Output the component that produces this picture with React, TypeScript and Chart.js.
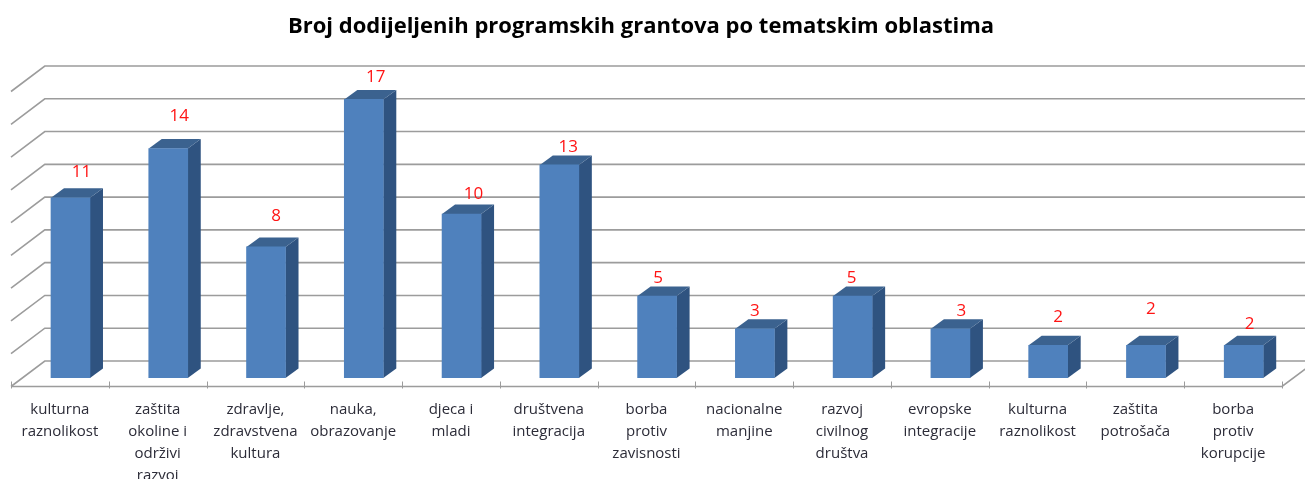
import React, { useEffect, useRef } from "react";
import { Chart, registerables } from "chart.js";

Chart.register(...registerables);

const TITLE = "Broj dodijeljenih programskih grantova po tematskim oblastima";
const categories: string[][] = [
  ["kulturna", "raznolikost"],
  ["zaštita", "okoline i", "održivi", "razvoj"],
  ["zdravlje,", "zdravstvena", "kultura"],
  ["nauka,", "obrazovanje"],
  ["djeca i", "mladi"],
  ["društvena", "integracija"],
  ["borba", "protiv", "zavisnosti"],
  ["nacionalne", "manjine"],
  ["razvoj", "civilnog", "društva"],
  ["evropske", "integracije"],
  ["kulturna", "raznolikost"],
  ["zaštita", "potrošača"],
  ["borba", "protiv", "korupcije"],
];
const grants = [11, 14, 8, 17, 10, 13, 5, 3, 5, 3, 2, 2, 2];
// hand-placed data labels in the source: shift from the bar's top centre
const labelShiftX = [11, 11, 10, 12, 12, 9, 1, 0, -1, 11, 10, 5, 6];
const labelLift = [26, 32, 31, 22, 20, 18, 18, 18, 18, 18, 28, 36, 21];

const FLOOR_FRONT = { dx: -10.6, dy: 8.5 };
const FLOOR_BACK = { dx: 23.2, dy: -17 };
const BAR_DEPTH = { dx: 13, dy: -9.5 };
const GRID = "#9c9c9c";

const box3d = {
  id: "box3d",
  afterLayout(chart: any) {
    const t = chart.titleBlock;
    if (t) { t.left = 0; t.right = 1282; }
  },
  beforeDatasetsDraw(chart: any) {
    const { ctx, scales, chartArea } = chart;
    const { x, y } = scales;
    ctx.save();
    ctx.strokeStyle = GRID;
    ctx.lineWidth = 1.6;
    const left = chartArea.left, right = chartArea.right;
    y.ticks.forEach((tk: any) => {
      const py = y.getPixelForValue(tk.value);
      ctx.beginPath();
      ctx.moveTo(left + FLOOR_FRONT.dx, py + FLOOR_FRONT.dy);
      ctx.lineTo(left + FLOOR_BACK.dx, py + FLOOR_BACK.dy);
      ctx.lineTo(right + FLOOR_BACK.dx, py + FLOOR_BACK.dy);
      ctx.stroke();
    });
    const y0 = y.getPixelForValue(0);
    ctx.beginPath();
    ctx.moveTo(left + FLOOR_FRONT.dx, y0 + FLOOR_FRONT.dy);
    ctx.lineTo(right + FLOOR_FRONT.dx, y0 + FLOOR_FRONT.dy);
    ctx.lineTo(right + FLOOR_BACK.dx, y0 + FLOOR_BACK.dy);
    ctx.stroke();
    ctx.lineWidth = 1;
    const step = (right - left) / categories.length;
    for (let i = 0; i <= categories.length; i++) {
      const px = Math.round(left + i * step + FLOOR_FRONT.dx) + 0.5;
      ctx.beginPath();
      ctx.moveTo(px, y0 + FLOOR_FRONT.dy - 5);
      ctx.lineTo(px, y0 + FLOOR_FRONT.dy + 2);
      ctx.stroke();
    }
    const d = BAR_DEPTH;
    chart.getDatasetMeta(0).data.forEach((b: any) => {
      const l = b.x - b.width / 2, r = b.x + b.width / 2;
      ctx.fillStyle = "#2f5380";
      ctx.beginPath();
      ctx.moveTo(r, b.y);
      ctx.lineTo(r + d.dx, b.y + d.dy);
      ctx.lineTo(r + d.dx, b.base + d.dy);
      ctx.lineTo(r, b.base);
      ctx.closePath();
      ctx.fill();
      ctx.fillStyle = "#3b628f";
      ctx.beginPath();
      ctx.moveTo(l, b.y);
      ctx.lineTo(l + d.dx, b.y + d.dy);
      ctx.lineTo(r + d.dx, b.y + d.dy);
      ctx.lineTo(r, b.y);
      ctx.closePath();
      ctx.fill();
    });
    ctx.restore();
  },
  afterDatasetsDraw(chart: any) {
    const { ctx } = chart;
    ctx.save();
    ctx.fillStyle = "#ff1414";
    ctx.font = '17px "Open Sans"';
    ctx.textAlign = "center";
    ctx.textBaseline = "middle";
    chart.getDatasetMeta(0).data.forEach((b: any, i: number) => {
      ctx.fillText(String(grants[i]), b.x + labelShiftX[i], b.y - labelLift[i]);
    });
    ctx.restore();
  },
};

export default function App() {
  const ref = useRef<HTMLCanvasElement>(null);
  useEffect(() => {
    document.body.style.margin = "0";
    const chart = new Chart(ref.current!, {
      type: "bar",
      data: {
        labels: categories,
        datasets: [{ data: grants, backgroundColor: "#4f81bd", barThickness: 39, borderWidth: 0 }],
      },
      options: {
        responsive: false,
        animation: false,
        layout: { padding: { left: 21.6, right: 12.4, top: 0, bottom: 0 } },
        plugins: {
          legend: { display: false },
          tooltip: { enabled: false },
          title: {
            display: true,
            text: TITLE,
            color: "#000",
            font: { family: '"Open Sans"', size: 22, weight: "bold", lineHeight: 1.2 },
            padding: { top: 13.5, bottom: 43.1 },
          },
        },
        scales: {
          x: {
            grid: { display: false },
            border: { display: false },
            afterFit: (s: any) => { s.height = 101; },
            ticks: {
              autoSkip: false,
              maxRotation: 0,
              minRotation: 0,
              padding: 13,
              labelOffset: -10.6,
              color: "#2c2c38",
              font: { family: '"Open Sans"', size: 15, lineHeight: 1.467 },
            },
          },
          y: { display: false, min: 0, max: 18, ticks: { stepSize: 2 } },
        },
      } as any,
      plugins: [box3d],
    });
    return () => chart.destroy();
  }, []);
  return <canvas ref={ref} width={1305} height={479} style={{ display: "block", filter: "blur(0.4px)" }} />;
}
